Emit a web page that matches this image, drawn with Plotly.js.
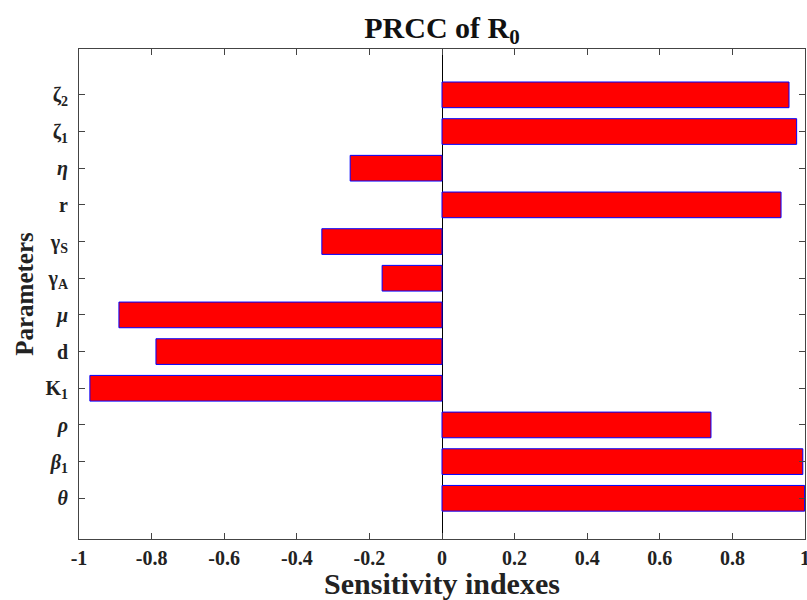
<!DOCTYPE html>
<html>
<head>
<meta charset="utf-8">
<script src="https://cdn.plot.ly/plotly-3.0.1.min.js"></script>
<style>html,body{margin:0;padding:0;background:#fff;}#chart{width:807px;height:600px;}</style>
</head>
<body>
<div id="chart"></div>
<script>
// Parameters, bottom to top
const parameters = ["<i>θ</i>", "<i>β</i><sub>1</sub>", "<i>ρ</i>", "K<sub>1</sub>", "d", "<i>μ</i>",
                    "γ<sub>A</sub>", "γ<sub>S</sub>", "r", "<i>η</i>", "ζ<sub>1</sub>", "ζ<sub>2</sub>"];
const prccValues = [0.999, 0.994, 0.741, -0.970, -0.788, -0.890,
                    -0.165, -0.331, 0.934, -0.253, 0.977, 0.956];
const xTickVals = [-1, -0.8, -0.6, -0.4, -0.2, 0, 0.2, 0.4, 0.6, 0.8, 1];
const xTickText = ["-1", "-0.8", "-0.6", "-0.4", "-0.2", "0", "0.2", "0.4", "0.6", "0.8", "1"];

const serif = "Liberation Serif, Times New Roman, serif";

const trace = {
  type: "bar",
  orientation: "h",
  x: prccValues,
  y: parameters,
  width: 0.7,
  marker: {color: "#ff0000", line: {color: "#0000ff", width: 1}},
  hoverinfo: "x+y"
};

const layout = {
  width: 807, height: 600,
  margin: {l: 79, r: 2, t: 49, b: 61},
  paper_bgcolor: "#ffffff", plot_bgcolor: "#ffffff",
  showlegend: false,
  bargap: 0.3,
  title: {text: "PRCC of R<sub>0</sub>", xref: "paper", x: 0.5, xanchor: "center",
          yref: "container", y: 0.955, yanchor: "middle",
          font: {family: serif, size: 30, color: "#111", weight: "bold"}},
  xaxis: {
    range: [-1, 1],
    tickvals: xTickVals, ticktext: xTickText,
    ticks: "inside", ticklen: 6, tickcolor: "#444", tickwidth: 1,
    showline: true, linecolor: "#444", linewidth: 1, mirror: "ticks",
    showgrid: false,
    zeroline: true, zerolinecolor: "#000", zerolinewidth: 1,
    ticklabeloverflow: "allow",
    ticklabelstandoff: 1,
    tickfont: {family: serif, size: 20, color: "#222", weight: "bold"},
    title: {text: "Sensitivity indexes", standoff: 0,
            font: {family: serif, size: 30, color: "#222", weight: "bold"}}
  },
  yaxis: {
    type: "category",
    range: [-1.11, 12.25],
    ticks: "inside", ticklen: 6, tickcolor: "#444", tickwidth: 1,
    showline: true, linecolor: "#444", linewidth: 1, mirror: "ticks",
    showgrid: false, zeroline: false,
    tickfont: {family: serif, size: 20, color: "#222", weight: "bold"},
    ticklabelstandoff: 6,
    title: {text: "Parameters", standoff: 4,
            font: {family: serif, size: 25, color: "#222", weight: "bold"}}
  }
};

Plotly.newPlot("chart", [trace], layout, {displayModeBar: false, staticPlot: true});
</script>
</body>
</html>
